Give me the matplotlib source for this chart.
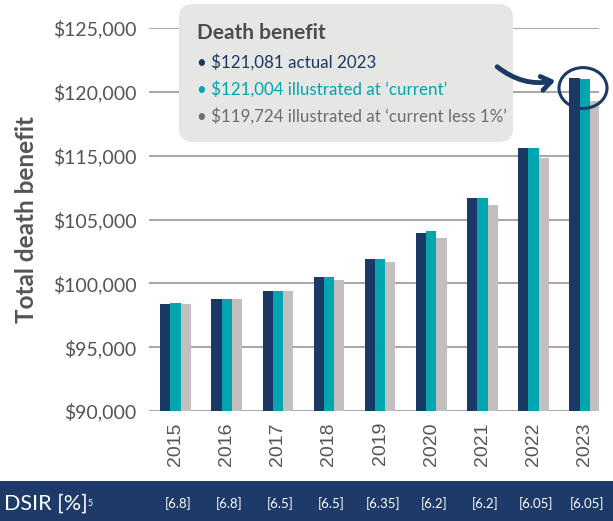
import numpy as np
import matplotlib
matplotlib.use('Agg')
from matplotlib import pyplot as plt
from matplotlib.patches import FancyBboxPatch, FancyArrowPatch, Circle, Rectangle
from matplotlib.transforms import blended_transform_factory

years = ['2015', '2016', '2017', '2018', '2019', '2020', '2021', '2022', '2023']
actual = [98390, 98780, 99400, 100500, 101910, 103950, 108390, 115610, 121081]
current = [98460, 98780, 99400, 100500, 101910, 104110, 108390, 115610, 121004]
current_less1 = [98390, 98780, 99400, 100270, 101680, 103560, 107290, 114660, 119250]
dsir = ['[6.8]', '[6.8]', '[6.5]', '[6.5]', '[6.35]', '[6.2]', '[6.2]', '[6.05]', '[6.05]']

# the axis labels skip $110,000, so the scale is piecewise linear between them
tick_vals = [90000, 95000, 100000, 105000, 115000, 120000, 125000]
tick_labels = ['$90,000', '$95,000', '$100,000', '$105,000', '$115,000', '$120,000', '$125,000']
tick_pos = np.arange(len(tick_vals))

NAVY = '#1c3865'
TEAL = '#00a5b0'
GREY = '#c3bfbe'
TXT = '#555555'

plt.rcParams['font.family'] = ['Lato', 'DejaVu Sans']

fig = plt.figure(figsize=(6.13, 5.21), dpi=100)
ax = fig.add_axes([149 / 613, 110 / 521, 450 / 613, 383 / 521])

fwd = lambda v: np.interp(v, tick_vals, tick_pos)
inv = lambda p: np.interp(p, tick_pos, tick_vals)
ax.set_yscale('function', functions=(fwd, inv))

x = np.arange(len(years))
w = 0.2
base = tick_vals[0]
for off, vals, col in [(-w, actual, NAVY), (0, current, TEAL), (w, current_less1, GREY)]:
    ax.bar(x + off, np.array(vals) - base, width=w, bottom=base, color=col, zorder=3)

ax.set_ylim(tick_vals[0], tick_vals[-1])
ax.set_xlim(-0.52, 8.28)
ax.set_yticks(tick_vals)
ax.set_yticklabels(tick_labels, fontsize=14, color=TXT)
ax.minorticks_off()
ax.yaxis.grid(True, color='#a7a9ac', linewidth=1.5, zorder=0)
ax.tick_params(axis='y', length=0, pad=9)
ax.set_xticks(x)
ax.set_xticklabels(years, rotation=90, fontsize=14, color=TXT, family='Liberation Sans')
ax.tick_params(axis='x', length=0, pad=8)
for s in ax.spines.values():
    s.set_visible(False)
ax.set_ylabel('Total death benefit', fontsize=17.5, fontweight='bold', color=TXT)
ax.yaxis.set_label_coords(-0.247, 0.5)

# legend box
box = FancyBboxPatch((179 / 613, 1 - 142 / 521), 334 / 613, 138 / 521,
                     boxstyle='round,pad=0,rounding_size=0.025', transform=fig.transFigure,
                     facecolor='#e6e6e5', edgecolor='none', zorder=5)
fig.patches.append(box)
fig.text(197 / 613, 1 - 33 / 521, 'Death benefit', fontsize=15, fontweight='bold',
         color='#4d4d4d', va='center', zorder=6)
lines = [('• $121,081 actual 2023', NAVY),
         ('• $121,004 illustrated at ‘current’', TEAL),
         ('• $119,724 illustrated at ‘current less 1%’', '#6d6d6d')]
for i, (t, c) in enumerate(lines):
    fig.text(197 / 613, 1 - (62 + 27 * i) / 521, t, fontsize=12.2, color=c, va='center', zorder=6)

# arrow and circle
arr = FancyArrowPatch((495 / 613, 1 - 65 / 521), (558 / 613, 1 - 80 / 521),
                      transform=fig.transFigure, connectionstyle='arc3,rad=0.25',
                      arrowstyle='->,head_length=7,head_width=5', color=NAVY,
                      linewidth=3.5, zorder=7)
fig.patches.append(arr)
circ = Circle((583 / 613, 1 - 88 / 521), 24 / 613, transform=fig.transFigure,
              fill=False, edgecolor=NAVY, linewidth=2.2, zorder=7)
fig.patches.append(circ)

# DSIR band
band = Rectangle((0, 0), 1, 40 / 521, transform=fig.transFigure, facecolor='#1d3a68',
                 edgecolor='none', zorder=1)
fig.patches.append(band)
fig.text(4 / 613, 11 / 521, 'DSIR [%]', fontsize=15.5, color='white', va='baseline')
fig.text(88 / 613, 15 / 521, '5', fontsize=6.5, color='white', va='baseline')
tr = blended_transform_factory(ax.transData, fig.transFigure)
for i, d in enumerate(dsir):
    fig.text(x[i] + 0.05, 13 / 521, d, fontsize=9.5, color='white',
             va='baseline', ha='center', transform=tr)

fig.savefig('out.png', dpi=100)
